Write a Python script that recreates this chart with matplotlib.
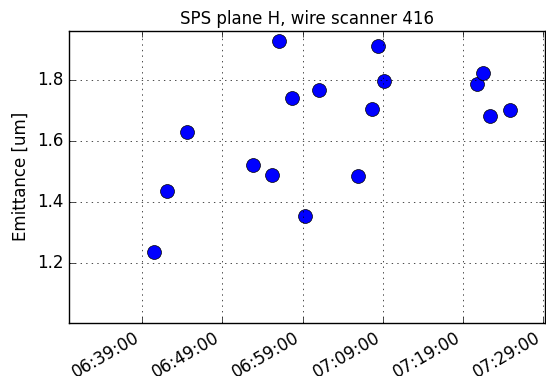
import datetime as dt
import matplotlib
matplotlib.use('Agg')
import matplotlib.pyplot as plt
import matplotlib.dates as mdates

plt.style.use('classic')

# scan times and measured emittance
day = '2016-06-01 '
times = ['06:40:26', '06:42:07', '06:44:37', '06:52:46', '06:55:08', '06:56:03',
         '06:57:37', '06:59:18', '07:01:00', '07:05:56', '07:07:37', '07:08:26',
         '07:09:08', '07:20:41', '07:21:31', '07:22:23', '07:24:53']
emittance = [1.237, 1.437, 1.630, 1.521, 1.488, 1.928,
             1.739, 1.355, 1.766, 1.484, 1.704, 1.912,
             1.797, 1.785, 1.821, 1.682, 1.702]
x_ticks = ['06:39:00', '06:49:00', '06:59:00', '07:09:00', '07:19:00', '07:29:00']
y_ticks = [1.2, 1.4, 1.6, 1.8]

def to_dt(s):
    return dt.datetime.strptime(day + s, '%Y-%m-%d %H:%M:%S')

x = [to_dt(t) for t in times]

fig = plt.figure(figsize=(5.46, 3.76), dpi=100, facecolor='white')
ax = fig.add_subplot(111)
fig.subplots_adjust(left=0.1264, right=0.9973, top=0.9176, bottom=0.1418)

ax.plot(x, emittance, 'o', color='b', markeredgecolor='k', markersize=10,
        markeredgewidth=0.5, linestyle='none')

ax.set_xlim(to_dt('06:29:52'), to_dt('07:29:09'))
ax.set_ylim(1.004, 1.96)
ax.set_xticks([to_dt(t) for t in x_ticks])
ax.xaxis.set_major_formatter(mdates.DateFormatter('%H:%M:%S'))
ax.set_yticks(y_ticks)
ax.grid(True)

ax.set_title('SPS plane H, wire scanner 416', fontsize=12)
ax.set_ylabel('Emittance [um]', fontsize=12)

for lab in ax.get_xticklabels():
    lab.set_rotation(30)
    lab.set_ha('right')

fig.savefig('out.png', dpi=100, facecolor='white')
